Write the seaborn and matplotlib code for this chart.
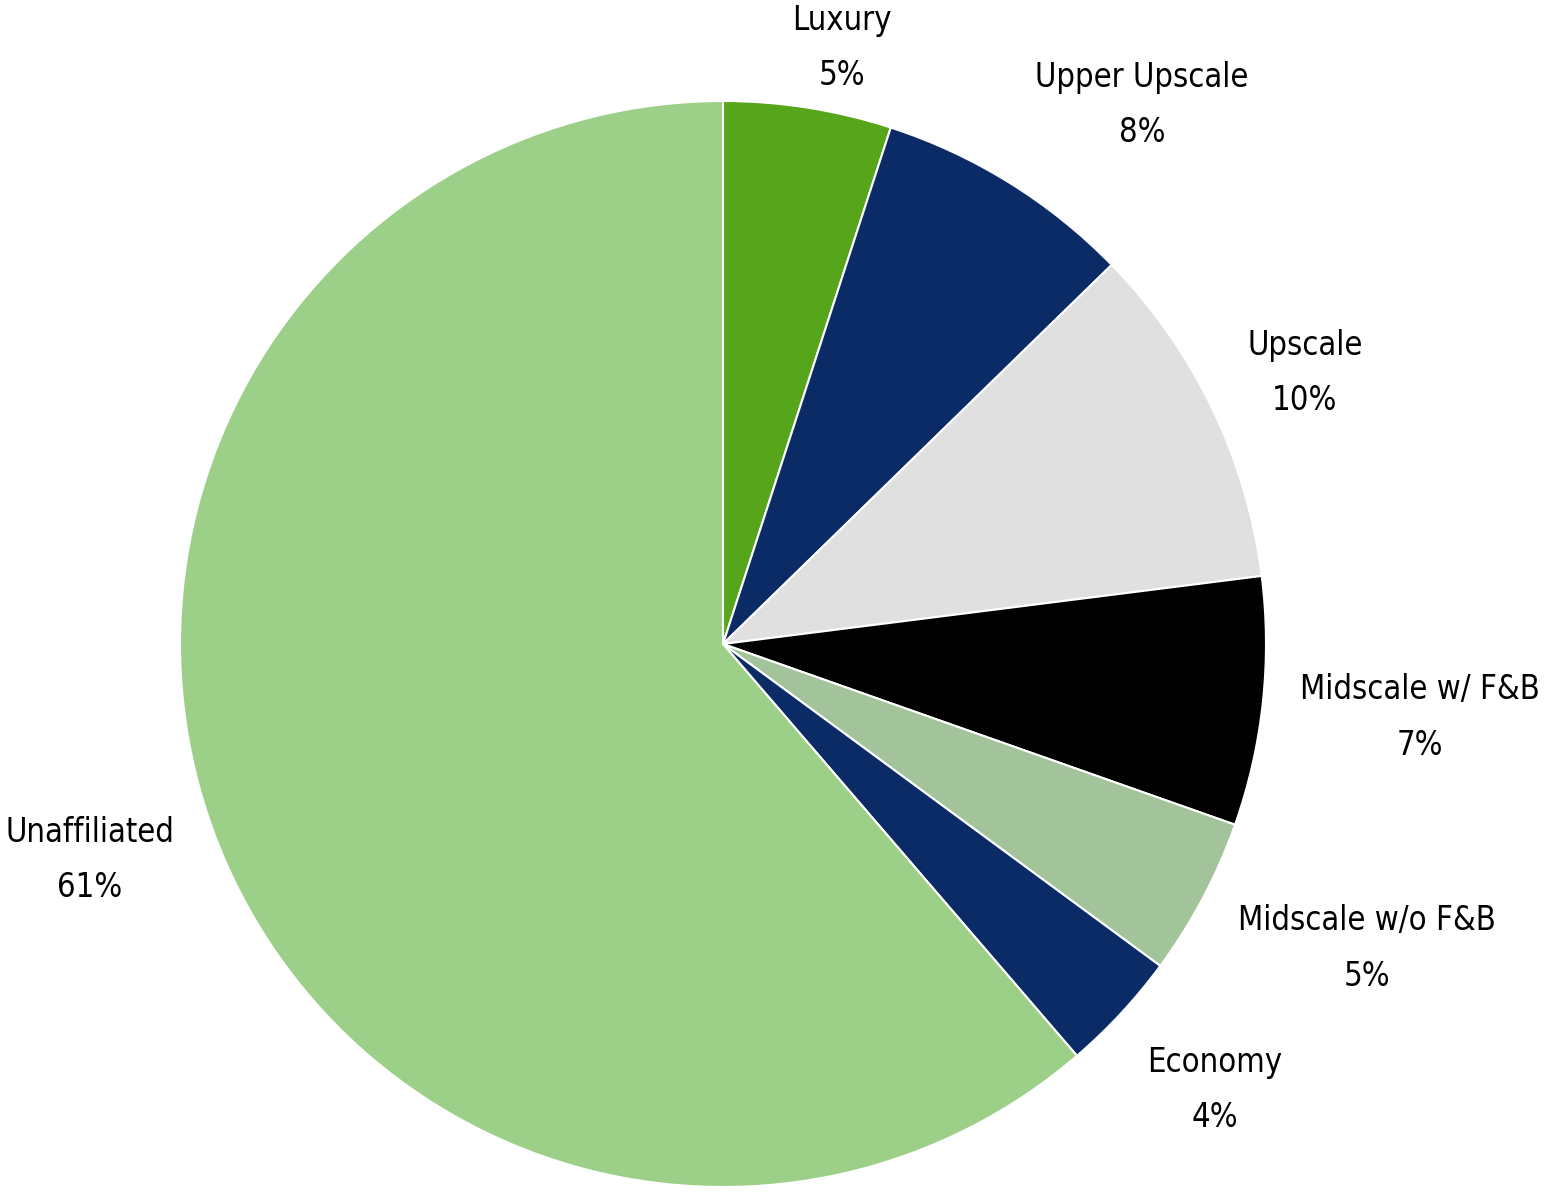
import matplotlib
matplotlib.use('Agg')

import numpy as np
import seaborn as sns
import matplotlib.pyplot as plt

# hotel segments, clockwise from 12 o'clock
segments = ['Luxury', 'Upper Upscale', 'Upscale', 'Midscale w/ F&B',
            'Midscale w/o F&B', 'Economy', 'Unaffiliated']
shares = [5.0, 7.7, 10.3, 7.4, 4.7, 3.6, 61.3]
colors = ['#56A51B', '#0A2B66', '#E0E0E0', '#000000',
          '#A3C49A', '#0A2B66', '#9CD088']
# label placement: distance in pie radii, angle nudge (deg, clockwise)
label_dist = [1.12, 1.257, 1.182, 1.29, 1.312, 1.223, 1.232]
label_shift = [2.3, 6.0, 0.8, -0.1, -2.6, -0.6, 1.5]

sns.set_theme(style='white')
plt.rcParams['font.family'] = ['DejaVu Sans']

W, H = 1544, 1192
cx, cy, r = 723, 644, 543

fig = plt.figure(figsize=(W / 100, H / 100), dpi=100)
ax = fig.add_axes([0, 0, 1, 1])

wedges, _ = ax.pie(shares, colors=colors, startangle=90, counterclock=False,
                   wedgeprops={'edgecolor': 'white', 'linewidth': 1.5})

for wedge, name, share, dist, shift in zip(wedges, segments, shares,
                                            label_dist, label_shift):
    mid = np.deg2rad((wedge.theta1 + wedge.theta2) / 2 - shift)
    ax.text(dist * np.cos(mid), dist * np.sin(mid), f'{name}\n{share:.0f}%',
            ha='center', va='center', fontsize=23.5, linespacing=1.85,
            fontstretch='condensed', color='black')

ax.set_aspect('auto')
ax.set_xlim(-cx / r, (W - cx) / r)
ax.set_ylim(-(H - cy) / r, cy / r)
ax.axis('off')

plt.savefig('out.png', dpi=100, facecolor='white')
plt.close()
